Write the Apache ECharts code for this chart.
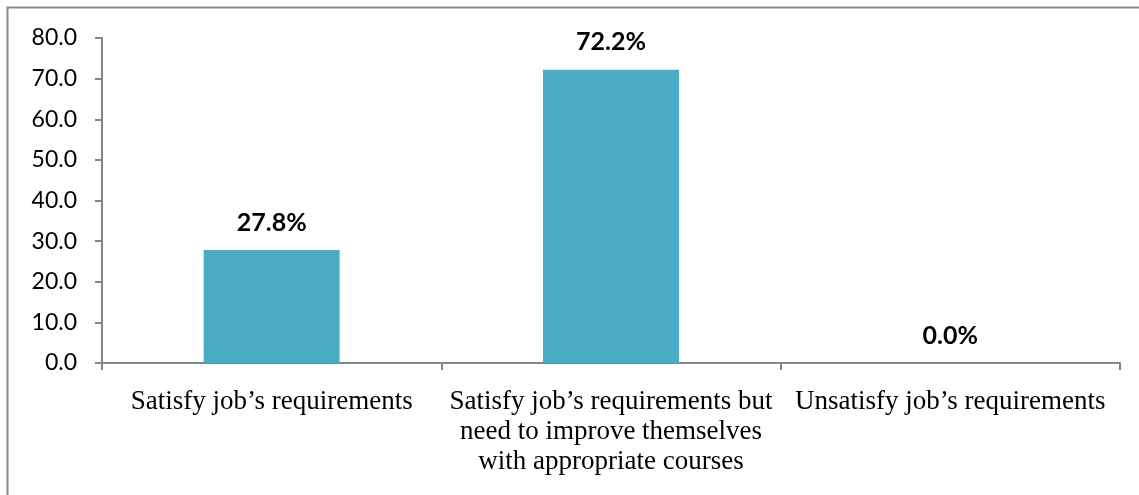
<!DOCTYPE html>
<html>
<head>
<meta charset="utf-8">
<script src="https://cdn.jsdelivr.net/npm/echarts@6/dist/echarts.min.js"></script>
<style>
html,body{margin:0;padding:0;background:#fff;}
#c{width:1139px;height:495px;}
</style>
</head>
<body>
<div id="c"></div>
<script>
var categories = [
  "Satisfy job\u2019s requirements",
  "Satisfy job\u2019s requirements but\nneed to improve themselves\nwith appropriate courses",
  "Unsatisfy job\u2019s requirements"
];
var values = [27.8, 72.2, 0.0];
var yMin = 0, yMax = 80, yStep = 10;

var chart = echarts.init(document.getElementById('c'));
chart.setOption({
  animation: false,
  backgroundColor: '#ffffff',
  graphic: [{
    type: 'rect',
    shape: { x: 7.5, y: 7.5, width: 1300, height: 700 },
    style: { fill: 'none', stroke: '#8a8a8a', lineWidth: 2 },
    silent: true
  }],
  grid: { left: 102, right: 19, top: 38, bottom: 132, containLabel: false },
  xAxis: {
    type: 'category',
    data: categories,
    axisLine: { lineStyle: { color: '#868686', width: 2 } },
    axisTick: { show: true, length: 7, lineStyle: { color: '#868686', width: 2 } },
    axisLabel: {
      interval: 0,
      margin: 24,
      color: '#000',
      fontFamily: 'Liberation Serif',
      fontSize: 27,
      lineHeight: 30
    }
  },
  yAxis: {
    type: 'value',
    min: yMin, max: yMax, interval: yStep,
    splitLine: { show: false },
    axisLine: { show: true, lineStyle: { color: '#868686', width: 2 } },
    axisTick: { show: true, length: 7, lineStyle: { color: '#868686', width: 2 } },
    axisLabel: {
      margin: 25,
      color: '#000',
      fontFamily: 'Lato',
      fontSize: 23,
      formatter: function (v) { return v.toFixed(1); }
    }
  },
  series: [{
    type: 'bar',
    data: values,
    barWidth: 136,
    itemStyle: { color: '#4bacc6' },
    label: {
      show: true,
      position: 'top',
      distance: 15,
      color: '#000',
      fontFamily: 'Lato',
      fontWeight: 'bold',
      fontSize: 25,
      formatter: function (p) { return p.value.toFixed(1) + '%'; }
    }
  }]
});
</script>
</body>
</html>
